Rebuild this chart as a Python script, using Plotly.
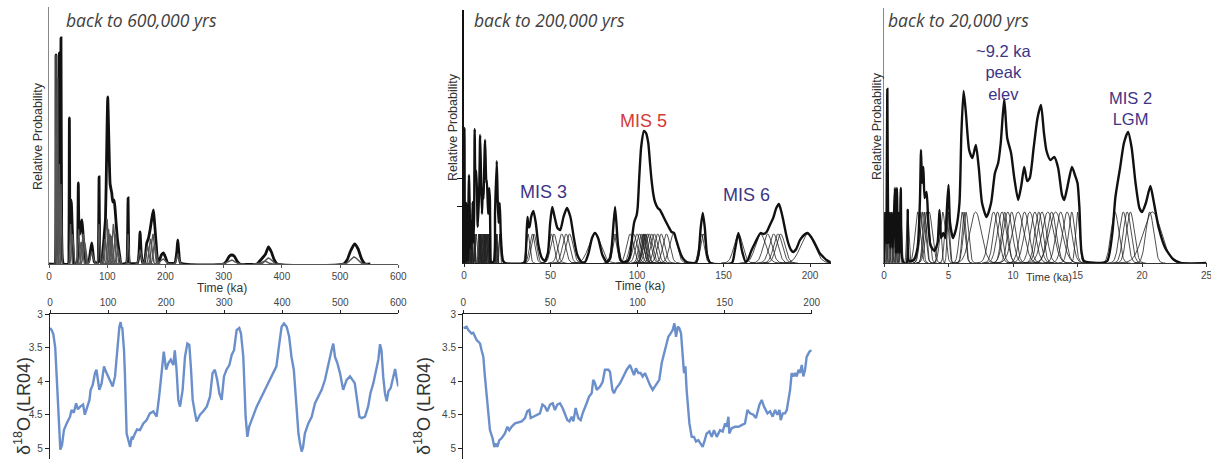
import numpy as np
import plotly.graph_objects as go

W, H = 1211, 459
def fx(px): return px / W
def fy(py): return 1 - py / H

# ------------------------------------------------------------------ data
# Panel A (back to 600 ka): summed relative probability
pA_t = [0, 10, 11.2, 12, 12.8, 13.8, 14.9, 16, 17.8, 19,
        20.6, 21.8, 23, 25, 33, 34.2, 35, 36, 37.5, 38.5,
        40, 41.5, 43.5, 48.5, 49.5, 50.4, 51.5, 53, 55, 56.6,
        58.5, 61, 64, 68, 73.4, 78, 83.5, 85, 86, 87,
        88.5, 91, 93, 95, 97, 99, 100.9, 103, 105, 107.8,
        109.5, 111.8, 113.5, 115.3, 117.5, 119.3, 121.5, 124, 133, 134.8,
        135.8, 136.8, 138.5, 152, 154.5, 156.4, 158.5, 161, 164, 167.9,
        170.5, 173.6, 176.5, 179.4, 181.5, 184, 186, 188, 190, 193,
        196.5, 200, 204, 216, 219.5, 221.2, 223, 226, 300, 305,
        310, 314, 318, 323, 328, 357, 362, 368, 372, 377,
        382, 387, 392, 506, 512, 518, 525, 531, 537, 543,
        552]
pA_p = [0, 0, 5, 209, 10, 8, 60, 10, 211, 20,
        226, 30, 5, 0, 0, 20, 146, 40, 64, 60,
        35, 15, 0, 2, 30, 81, 35, 30, 40, 44,
        30, 10, 1, 2, 21, 2, 1, 20, 87, 20,
        2, 1, 15, 30, 45, 110, 167, 120, 80, 71,
        62, 64, 55, 41, 25, 17, 8, 0, 1, 20,
        66, 20, 1, 1, 10, 32, 10, 1, 2, 21,
        25, 34, 45, 54, 40, 21, 6, 2, 4, 9,
        11, 7, 1, 1, 12, 24, 12, 1, 0, 3,
        8, 9, 8, 3, 0, 0, 3, 7, 10, 17,
        12, 4, 0, 0, 4, 13, 20, 15, 5, 0,
        0]
# Panel A individual sample curves: age (ka), 1-sigma (ka), plotted height
pA_age = [12.0, 14.9, 17.8, 20.6, 37.0, 40.0, 50.8, 55.0, 58.5, 61.0,
          73.4, 86.0, 96.0, 99.5, 102.0, 104.5, 107.0, 110.5, 114.0, 118.0,
          135.8, 156.4, 169.0, 174.5, 178.5, 181.5, 196.0, 221.2, 313.0, 370.0,
          377.0, 524.0]
pA_sig = [0.5, 0.5, 0.6, 0.7, 1.0, 1.5, 1.2, 2.0, 2.0, 2.0,
          2.5, 1.0, 2.0, 2.0, 1.8, 2.0, 2.0, 2.0, 2.0, 2.0,
          1.0, 2.0, 2.5, 2.5, 2.5, 2.5, 4.0, 2.0, 6.0, 5.0,
          5.0, 6.0]
pA_hgt = [209, 186, 100, 80, 40, 30, 35, 22, 30, 22,
          12, 40, 25, 45, 35, 30, 28, 40, 30, 15,
          30, 14, 18, 25, 30, 20, 5, 10, 4, 3,
          6, 7]

# Young sample ages (ka) and 1-sigma, shared by panels B and C
young_age = [0.05, 0.15, 0.26, 0.38, 0.5, 0.62, 0.75, 0.85, 0.95, 1.05,
             1.18, 1.3, 1.84, 2.6, 2.85, 3.0, 3.15, 3.3, 3.5, 4.3,
             4.55, 4.85, 5.0, 6.05, 6.2, 6.35, 7.1, 8.5, 8.8, 9.15,
             9.35, 9.6, 9.9, 10.4, 10.9, 11.3, 11.7, 12.0, 12.25, 12.7,
             13.0, 13.3, 13.7, 14.2, 14.55, 15.0, 17.9, 18.55, 18.85, 19.1,
             20.6, 20.8]
young_sig = [0.05, 0.05, 0.05, 0.05, 0.05, 0.05, 0.05, 0.05, 0.05, 0.05,
             0.05, 0.06, 0.08, 0.2, 0.15, 0.2, 0.15, 0.2, 0.25, 0.12,
             0.2, 0.15, 0.1, 0.2, 0.15, 0.2, 0.45, 0.35, 0.3, 0.35,
             0.25, 0.35, 0.3, 0.45, 0.35, 0.4, 0.35, 0.3, 0.35, 0.45,
             0.35, 0.5, 0.35, 0.35, 0.25, 0.15, 0.3, 0.3, 0.3, 0.3,
             0.3, 0.7]
# Older samples shown in panel B
old_age = [37.0, 39.5, 40.5, 50.5, 52.0, 56.5, 59.0, 61.0, 75.7, 86.7,
           87.7, 96.0, 98.0, 100.0, 101.5, 102.5, 103.5, 104.0, 104.5, 105.0,
           106.0, 107.0, 108.5, 110.0, 112.0, 114.0, 117.0, 121.0, 137.3, 138.3,
           158.6, 171.4, 175.5, 179.0, 181.5, 183.0, 198.6]
old_sig = [1.0, 1.5, 1.5, 1.5, 1.8, 2.0, 2.0, 2.0, 3.5, 1.5,
           1.5, 2.0, 2.0, 2.0, 2.0, 1.5, 1.5, 1.2, 1.5, 1.5,
           2.0, 2.0, 2.0, 2.0, 2.0, 2.0, 2.0, 2.2, 1.5, 1.5,
           2.5, 3.0, 2.5, 2.5, 2.5, 2.5, 4.0]

# Panel B (back to 200 ka) summed relative probability
pB_t = [0, 0.26, 0.5, 0.85, 0.92, 1.0, 1.08, 1.3, 1.55, 1.84,
        2.1, 2.87, 3.05, 3.3, 3.6, 4.3, 4.6, 5.0, 5.35, 5.85,
        6.17, 6.6, 7.12, 7.95, 8.85, 9.32, 9.85, 10.4, 10.87, 11.2,
        12.17, 12.9, 13.2, 13.97, 14.57, 15.0, 15.3, 15.6, 17.3, 17.94,
        18.92, 19.5, 20.0, 20.65, 21.3, 22.4, 23.7,
        35, 35.5, 36.2, 36.7, 37.3, 37.8, 38.8, 40.1, 41.5, 43,
        45, 46.8, 48.5, 49.8, 51, 52.5, 54, 55.6, 57.5, 59.5,
        61.5, 63.5, 65.5, 68, 70, 72, 74, 75.7, 77.5, 80,
        82.5, 84.5, 85.5, 87.3, 89, 90.5, 92, 94.5, 96, 97.4,
        98.4, 99.8, 100.4, 101.3, 102.4, 104, 105.2, 106.5, 107.5, 108.4,
        109.5, 110.4, 112, 113.3, 114.8, 116.2, 118, 120, 121.4, 122.5,
        123.9, 125.5, 126.8, 128.8, 134, 135.5, 136.8, 138, 139.2, 140.5,
        142.4, 154.8, 156.5, 158.6, 160.7, 162.8, 164.3, 166, 168.2, 171.4,
        173, 174.9, 176.8, 178.7, 180.5, 182, 183.3, 184.5, 186, 187.4,
        189, 190.3, 192, 194.2, 196.5, 198.6, 201, 203.8, 205.5, 207.7,
        209.5, 211.6, 213]
pB_p = [0, 135, 25, 60, 10, 60, 10, 60, 2, 42,
        3, 88, 75, 55, 14, 42, 22, 61, 20, 47,
        134, 88, 92, 36, 78, 128, 86, 49, 75, 64,
        123, 80, 83, 49, 75, 62, 9, 0, 2, 51,
        102, 62, 40, 60, 27, 3, 0,
        0, 3, 30, 46, 36, 36, 46, 52, 40, 18,
        5, 2, 10, 40, 56, 45, 35, 33, 46, 55,
        46, 25, 8, 1, 1, 10, 25, 30, 25, 8,
        1, 5, 18, 56, 18, 3, 1, 2, 8, 29,
        41, 48, 56, 86, 116, 132, 130, 120, 100, 83,
        68, 61, 55, 53, 48, 43, 37, 31, 30, 24,
        16, 8, 4, 1, 0, 8, 35, 50, 35, 8,
        0, 0, 12, 30, 12, 1, 4, 12, 20, 30,
        29, 31, 38, 45, 55, 59, 52, 43, 30, 20,
        13, 11, 14, 23, 28, 30, 25, 16, 10, 6,
        3, 1, 0]

# Panel C (back to 20 ka) summed relative probability
pC_t = [0, 0.12, 0.18, 0.26, 0.33, 0.42, 0.5, 0.6, 0.68, 0.78,
        0.85, 0.92, 1.0, 1.08, 1.15, 1.22, 1.3, 1.4, 1.55, 1.75,
        1.84, 1.95, 2.3, 2.6, 2.78, 2.87, 2.95, 3.05, 3.15, 3.3,
        3.42, 3.6, 3.9, 4.15, 4.3, 4.42, 4.6, 4.75, 4.88, 5.0,
        5.12, 5.35, 5.6, 5.85, 6.0, 6.17, 6.35, 6.6, 6.85, 7.12,
        7.35, 7.6, 7.95, 8.3, 8.6, 8.85, 9.05, 9.32, 9.55, 9.85,
        10.1, 10.4, 10.65, 10.87, 11.1, 11.3, 11.6, 11.9, 12.17, 12.4,
        12.6, 12.9, 13.2, 13.5, 13.8, 13.97, 14.2, 14.57, 14.8, 15.0,
        15.15, 15.3, 15.5, 16.5, 17.3, 17.7, 17.94, 18.3, 18.6, 18.92,
        19.2, 19.5, 19.8, 20.0, 20.3, 20.65, 20.9, 21.3, 21.8, 22.4,
        23.0, 25.0]
pC_p = [0, 50, 20, 174, 20, 50, 15, 50, 15, 50,
        75, 10, 75, 10, 50, 10, 75, 5, 0, 0,
        53, 2, 3, 15, 60, 113, 80, 96, 65, 71,
        45, 18, 12, 20, 53, 25, 30, 25, 55, 78,
        40, 25, 35, 60, 130, 172, 150, 113, 105, 118,
        95, 60, 46, 60, 90, 100, 120, 164, 125, 110,
        85, 63, 78, 96, 82, 85, 115, 145, 158, 130,
        112, 103, 106, 95, 68, 63, 75, 96, 88, 80,
        55, 12, 2, 0, 2, 30, 66, 95, 120, 131,
        115, 80, 55, 51, 60, 77, 62, 35, 15, 4,
        0, 0]

# LR04 benthic d18O stack, back to 600 ka
lr600_t = [0, 2.9, 5.7, 7.5, 9, 11.5, 16, 17.8, 20.7, 24,
           28.7, 34.5, 37, 41, 45, 48, 52, 57, 60, 62,
           64, 68, 70, 73.5, 77.5, 80, 82, 85, 89, 93,
           96, 99, 103, 108, 112, 116, 119.5, 121.7, 123, 124.6,
           127.5, 129, 132, 135, 138, 140.7, 143, 146.4, 150, 155,
           160.8, 166.5, 172, 178, 183.7, 188, 192, 196, 200, 204,
           208, 212.5, 215, 218, 221, 224, 228.5, 232.5, 236.6, 240,
           243, 245.8, 249.8, 252.6, 258.4, 264, 270, 275.6, 280, 284,
           288, 291.7, 295.7, 299.7, 304, 309, 313, 317, 321.5, 326,
           329, 333, 337, 340, 343, 349, 356, 361.7, 367.5, 373,
           379, 384.7, 390, 395, 399, 403, 407.7, 412, 416, 420,
           424, 428, 430.7, 433.5, 436, 439, 445, 450.8, 456.5, 462,
           468, 473.7, 479.5, 485, 488, 491, 495, 499.6, 505, 511,
           516.8, 521, 525, 529, 533, 537, 542.6, 548, 552, 557,
           561.6, 565.6, 568.5, 571, 574, 577, 580, 583, 587, 591,
           594.5, 597, 600]
lr600_d = [3.21, 3.24, 3.30, 3.40, 3.50, 3.93, 4.88, 5.02, 4.95, 4.73,
           4.63, 4.53, 4.43, 4.47, 4.33, 4.42, 4.38, 4.35, 4.50, 4.45,
           4.38, 4.28, 4.13, 4.06, 3.88, 3.83, 3.95, 4.13, 4.03, 3.78,
           3.85, 3.91, 3.98, 4.08, 3.93, 3.49, 3.19, 3.12, 3.20, 3.21,
           3.54, 3.88, 4.78, 4.88, 4.98, 4.83, 4.85, 4.78, 4.72, 4.73,
           4.63, 4.58, 4.48, 4.45, 4.53, 4.23, 3.88, 3.56, 3.83, 3.73,
           3.68, 3.76, 3.54, 3.83, 4.28, 4.38, 4.13, 3.64, 3.44, 3.46,
           3.83, 4.28, 4.48, 4.60, 4.50, 4.45, 4.38, 4.23, 3.88, 3.83,
           3.98, 4.18, 4.28, 3.93, 3.83, 3.76, 3.61, 3.54, 3.24, 3.21,
           3.29, 3.64, 4.53, 4.83, 4.68, 4.53, 4.38, 4.28, 4.18, 4.08,
           3.98, 3.88, 3.78, 3.44, 3.19, 3.14, 3.19, 3.34, 3.64, 3.83,
           4.33, 4.78, 4.93, 5.05, 4.98, 4.78, 4.63, 4.53, 4.33, 4.23,
           4.13, 3.98, 3.73, 3.54, 3.44, 3.64, 3.73, 3.88, 4.13, 3.98,
           3.93, 3.98, 4.03, 4.28, 4.53, 4.55, 4.53, 4.38, 4.18, 4.03,
           3.83, 3.68, 3.45, 3.54, 3.93, 4.18, 4.30, 4.15, 4.10, 3.95,
           3.82, 3.95, 4.08]

# LR04 benthic d18O stack, back to 200 ka
lr200_t = [0, 1.9, 2.9, 3.8, 4.8, 5.7, 6.7, 7.7, 8.6, 9.6,
           10.5, 11.5, 12.4, 13.8, 15.3, 16.8, 17.8, 18.8, 19.5, 20.7,
           22, 23.9, 25.3, 26.4, 27.7, 29.7, 31.6, 33.5, 35.4, 36.7,
           37.9, 38.7, 40.2, 42.1, 44, 45.4, 46.9, 48.2, 49.8, 51.3,
           52.6, 54, 55.5, 57, 58.4, 59.7, 60.9, 62.2, 63.2, 64.5,
           66, 67.4, 68.5, 69.9, 70.8, 72.2, 73.7, 74.6, 75.6, 76.6,
           78.5, 80, 81.3, 83.3, 84.2, 85.6, 86.5, 87.7, 90, 91.9,
           93.8, 95.7, 96.7, 98, 99.1, 100.5, 101.8, 103, 104.3, 105.7,
           107.2, 108.7, 110, 111.4, 112.5, 113.9, 115.2, 116.4, 117.7, 119,
           120.2, 121.2, 122.1, 123.1, 124, 125, 126, 126.7, 127.5, 128.2,
           129.8, 131.1, 132.4, 133.6, 134.9, 136.3, 137.4, 138.6, 139.7, 141.3,
           142.6, 143.9, 145.5, 147.4, 148.9, 150.3, 151.2, 152.2, 152.7, 154.1,
           156, 157.9, 159.8, 161.7, 163.1, 164.6, 166.5, 168, 170, 171.3,
           172.6, 174.6, 176.1, 177.6, 179, 180.3, 181.5, 182.2, 183.4, 184.7,
           185.7, 186.6, 187.6, 188.5, 189.5, 190.4, 191.4, 192.4, 193.3, 194.3,
           195.2, 196.2, 197.1, 198.7, 200]
lr200_d = [3.21, 3.19, 3.24, 3.26, 3.29, 3.28, 3.34, 3.39, 3.41, 3.44,
           3.54, 3.64, 3.93, 4.33, 4.73, 4.85, 4.98, 4.93, 4.98, 4.88,
           4.85, 4.78, 4.68, 4.73, 4.68, 4.63, 4.62, 4.60, 4.55, 4.45,
           4.43, 4.55, 4.53, 4.50, 4.48, 4.35, 4.38, 4.45, 4.35, 4.33,
           4.43, 4.35, 4.33, 4.40, 4.48, 4.58, 4.60, 4.53, 4.60, 4.40,
           4.55, 4.58, 4.48, 4.40, 4.33, 4.23, 4.18, 3.98, 4.03, 4.13,
           4.08, 4.01, 3.83, 3.83, 3.86, 4.13, 4.18, 4.11, 4.03, 3.93,
           3.83, 3.76, 3.83, 3.91, 3.81, 3.88, 3.88, 3.93, 3.88, 3.98,
           4.06, 4.13, 4.08, 4.03, 3.98, 3.73, 3.59, 3.49, 3.34, 3.29,
           3.24, 3.14, 3.34, 3.19, 3.21, 3.29, 3.59, 3.88, 3.78, 4.13,
           4.63, 4.83, 4.83, 4.90, 4.88, 4.93, 4.98, 4.88, 4.78, 4.75,
           4.83, 4.73, 4.83, 4.73, 4.75, 4.63, 4.68, 4.53, 4.78, 4.70,
           4.68, 4.68, 4.65, 4.63, 4.43, 4.48, 4.50, 4.55, 4.35, 4.28,
           4.38, 4.48, 4.45, 4.53, 4.43, 4.50, 4.43, 4.58, 4.48, 4.48,
           4.43, 4.28, 4.13, 3.88, 3.93, 3.88, 3.93, 3.83, 3.88, 3.76,
           3.93, 3.83, 3.64, 3.56, 3.54]

IND_H_B = 29   # plotted height of single-sample curves, panel B
IND_H_C = 51   # plotted height of single-sample curves, panel C

# ------------------------------------------------------------------ helpers
def sample_curves(ages, sigs, heights):
    xs, ys = [], []
    for mu, s, h in zip(ages, sigs, heights):
        x = np.linspace(mu - 4 * s, mu + 4 * s, 81)
        y = h * np.exp(-0.5 * ((x - mu) / s) ** 2)
        xs += list(x) + [None]
        ys += list(y) + [None]
    return xs, ys

FONT = "Liberation Sans, Arial, sans-serif"
PURPLE = "#3d3585"
RED = "#d43a3a"
BLUE = "#6b8fca"

fig = go.Figure()

# Panel A
ax, ay = sample_curves(pA_age, pA_sig, pA_hgt)
fig.add_trace(go.Scatter(x=pA_t, y=pA_p, mode="lines", xaxis="x", yaxis="y",
                         line=dict(color="#111", width=2.8, shape="spline", smoothing=0.5)))
fig.add_trace(go.Scatter(x=ax, y=ay, mode="lines", xaxis="x", yaxis="y",
                         line=dict(color="#555", width=1.4)))

# Panel B
bx1, by1 = sample_curves(young_age, young_sig, [IND_H_B] * len(young_age))
bx2, by2 = sample_curves(old_age, old_sig, [IND_H_B] * len(old_age))
fig.add_trace(go.Scatter(x=bx1 + bx2, y=by1 + by2, mode="lines", xaxis="x2", yaxis="y2",
                         line=dict(color="#222", width=0.8)))
fig.add_trace(go.Scatter(x=pB_t, y=pB_p, mode="lines", xaxis="x2", yaxis="y2",
                         line=dict(color="#111", width=2.4, shape="spline", smoothing=0.6)))

# Panel C
cx, cy = sample_curves(young_age, young_sig, [IND_H_C] * len(young_age))
fig.add_trace(go.Scatter(x=cx, y=cy, mode="lines", xaxis="x3", yaxis="y3",
                         line=dict(color="#222", width=0.8)))
fig.add_trace(go.Scatter(x=pC_t, y=pC_p, mode="lines", xaxis="x3", yaxis="y3",
                         line=dict(color="#111", width=2.4, shape="spline", smoothing=0.6)))

# Panels D, E
fig.add_trace(go.Scatter(x=lr600_t, y=lr600_d, mode="lines", xaxis="x4", yaxis="y4",
                         line=dict(color=BLUE, width=2.4)))
fig.add_trace(go.Scatter(x=lr200_t, y=lr200_d, mode="lines", xaxis="x5", yaxis="y5",
                         line=dict(color=BLUE, width=2.4)))

tickfont = dict(family=FONT, size=10, color="#444")

def xax(dom, rng, vals, anchor, side="bottom", lc="#333"):
    return dict(domain=[fx(dom[0]), fx(dom[1])], range=rng, anchor=anchor, side=side,
                tickvals=vals, ticktext=[str(v) for v in vals], ticks="outside",
                ticklen=3, tickcolor=lc, showline=True, linecolor=lc, linewidth=1,
                showgrid=False, zeroline=False, tickfont=tickfont, fixedrange=True,
                automargin=False, ticklabeloverflow="allow")

def yax_top(dom, rng, anchor, lc="#888", lw=1, tv=None):
    d = dict(domain=[fy(dom[0]), fy(dom[1])], range=rng, anchor=anchor,
             showline=True, linecolor=lc, linewidth=lw, showgrid=False,
             zeroline=False, showticklabels=False, fixedrange=True, automargin=False)
    if tv:
        d.update(tickvals=tv, ticks="outside", ticklen=5, tickcolor=lc)
    else:
        d.update(ticks="")
    return d

def yax_bot(anchor):
    vals = [3, 3.5, 4, 4.5, 5]
    return dict(domain=[0, fy(314)], range=[5.16, 3], anchor=anchor,
                tickvals=vals, ticktext=["3", "3.5", "4", "4.5", "5"],
                ticks="outside", ticklen=4, tickcolor="#222",
                showline=True, linecolor="#222", linewidth=1.3,
                showgrid=False, zeroline=False, tickfont=tickfont, fixedrange=True,
                automargin=False, ticklabeloverflow="allow")

layout = dict(
    width=W, height=H, margin=dict(l=0, r=0, t=0, b=0, pad=0, autoexpand=False),
    paper_bgcolor="white", plot_bgcolor="rgba(0,0,0,0)", showlegend=False,
    xaxis=xax((49, 398.3), [0, 600], [0, 100, 200, 300, 400, 500, 600], "y", lc="#555"),
    yaxis=yax_top((264, 7), [0, 257], "x", lc="#888"),
    xaxis2=xax((464, 830.8), [0, 212], [0, 50, 100, 150, 200], "y2", lc="#222"),
    yaxis2=yax_top((263, 10), [0, 253], "x2", lc="#111", lw=2.5, tv=[57, 85]),
    xaxis3=xax((884, 1206.5), [0, 25], [0, 5, 10, 15, 20, 25], "y3", lc="#333"),
    yaxis3=yax_top((263, 8), [0, 255], "x3", lc="#888"),
    xaxis4=xax((50, 398.3), [0, 600], [0, 100, 200, 300, 400, 500, 600], "y4", side="top", lc="#222"),
    yaxis4=yax_bot("x4"),
    xaxis5=xax((463.3, 811.7), [0, 200], [0, 50, 100, 150, 200], "y5", side="top", lc="#222"),
    yaxis5=yax_bot("x5"),
)
fig.update_layout(**layout)

def ann(text, px, py, size, color="#333", angle=0, xanchor="center", family=FONT):
    fig.add_annotation(text=text, x=fx(px), y=fy(py), xref="paper", yref="paper",
                       xanchor=xanchor, yanchor="middle", showarrow=False, textangle=angle,
                       font=dict(family=family, size=size, color=color))

TITLEF = "Open Sans, DejaVu Sans, sans-serif"
ann("<i>back to 600,000 yrs</i>", 64, 20, 17.5, "#404040", xanchor="left", family=TITLEF)
ann("<i>back to 200,000 yrs</i>", 472, 20, 17.5, "#404040", xanchor="left", family=TITLEF)
ann("<i>back to 20,000 yrs</i>", 886, 20, 17.5, "#404040", xanchor="left", family=TITLEF)

for px, py in [(38, 136), (453, 127), (877, 126)]:
    ann("Relative Probability", px, py, 12.5, "#333", angle=-90)
for px, py, s in [(222, 288, 12), (640, 286, 12), (1049, 277, 11)]:
    ann("Time (ka)", px, py, s, "#333")
for px in (22, 422):
    ann("δ<sup>18</sup>O (LR04)", px, 406, 18, "#333", angle=-90)

ann("MIS 3", 543, 192, 18, PURPLE)
ann("MIS 5", 643, 121, 18, RED)
ann("MIS 6", 746, 195, 18, PURPLE)
ann("~9.2 ka<br>peak<br>elev", 1003, 72, 16.5, PURPLE)
ann("MIS 2<br>LGM", 1130, 109, 16.5, PURPLE)

fig.write_html("out.html",
               config={"displayModeBar": False, "staticPlot": True},
               post_script="document.body.style.margin='0px';"
                           "document.body.style.overflow='hidden';"
                           "document.documentElement.style.overflow='hidden';")
